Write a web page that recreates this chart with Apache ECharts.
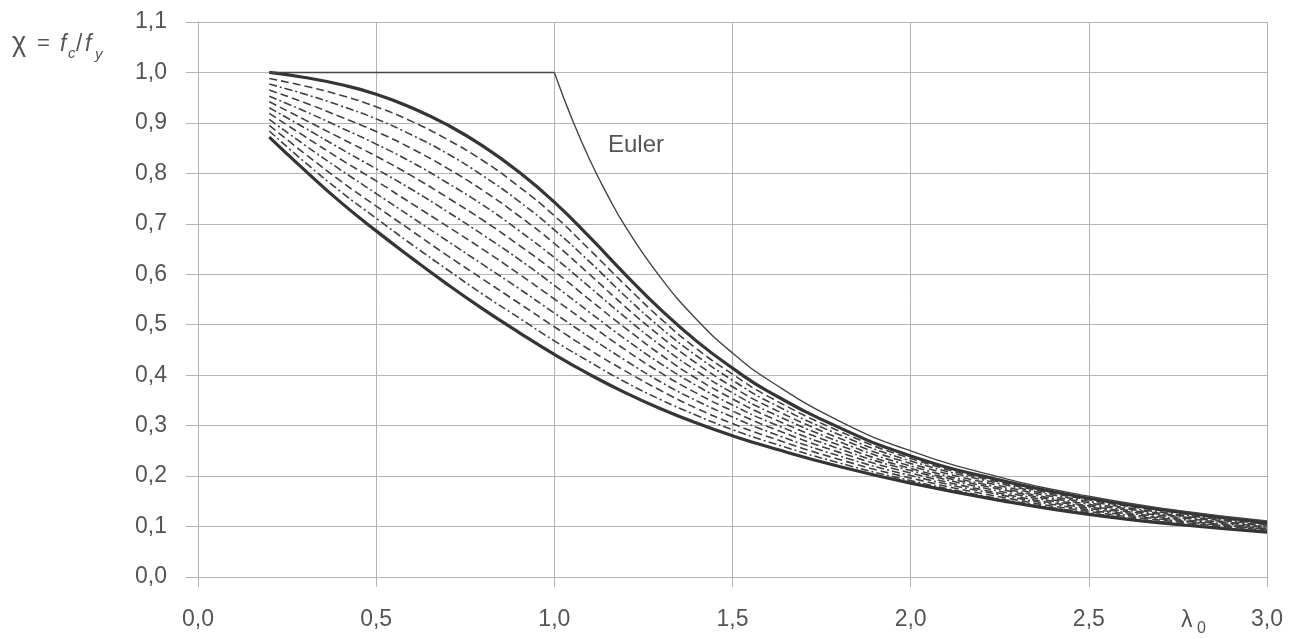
<!DOCTYPE html>
<html>
<head>
<meta charset="utf-8">
<script src="https://cdn.jsdelivr.net/npm/echarts@6/dist/echarts.min.js"></script>
<style>
  html, body { margin: 0; padding: 0; background: #fff; }
  #chart { width: 1301px; height: 639px; }
</style>
</head>
<body>
<div id="chart"></div>
<script>
// slenderness values where the curves were read
const lambda = [0.2, 0.3, 0.4, 0.5, 0.6, 0.7, 0.8, 0.9, 1.0, 1.1, 1.2, 1.3, 1.4, 1.5, 1.6, 1.8, 2.0, 2.25, 2.5, 2.75, 3.0];

// heavy boundary curves
const upper = [1.000, 0.990, 0.976, 0.957, 0.930, 0.896, 0.854, 0.803, 0.743, 0.673, 0.599, 0.529, 0.467, 0.414, 0.368, 0.296, 0.240, 0.192, 0.156, 0.129, 0.108];
const lower = [0.872, 0.806, 0.743, 0.686, 0.632, 0.580, 0.531, 0.485, 0.441, 0.401, 0.365, 0.333, 0.305, 0.280, 0.258, 0.219, 0.186, 0.152, 0.124, 0.104, 0.089];

// dashed / dash-dot curves in between (top to bottom)
const c1 = [0.988, 0.973, 0.955, 0.932, 0.903, 0.867, 0.825, 0.774, 0.716, 0.648, 0.578, 0.511, 0.452, 0.402, 0.358, 0.289, 0.235, 0.188, 0.153, 0.127, 0.106];
const c2 = [0.977, 0.957, 0.934, 0.908, 0.876, 0.839, 0.795, 0.745, 0.688, 0.624, 0.556, 0.493, 0.438, 0.390, 0.348, 0.282, 0.230, 0.185, 0.150, 0.124, 0.105];
const c3 = [0.965, 0.940, 0.912, 0.883, 0.849, 0.810, 0.766, 0.716, 0.661, 0.599, 0.535, 0.476, 0.423, 0.377, 0.338, 0.275, 0.225, 0.181, 0.147, 0.122, 0.103];
const c4 = [0.953, 0.923, 0.891, 0.858, 0.822, 0.781, 0.737, 0.687, 0.633, 0.574, 0.514, 0.458, 0.408, 0.365, 0.328, 0.268, 0.220, 0.177, 0.144, 0.120, 0.101];
const c5 = [0.942, 0.906, 0.870, 0.834, 0.795, 0.752, 0.707, 0.658, 0.606, 0.549, 0.493, 0.440, 0.393, 0.353, 0.318, 0.261, 0.215, 0.174, 0.141, 0.118, 0.099];
const c6 = [0.930, 0.890, 0.849, 0.809, 0.768, 0.724, 0.678, 0.630, 0.578, 0.524, 0.471, 0.422, 0.379, 0.341, 0.308, 0.254, 0.211, 0.170, 0.139, 0.115, 0.098];
const c7 = [0.919, 0.873, 0.828, 0.785, 0.740, 0.695, 0.649, 0.601, 0.551, 0.500, 0.450, 0.404, 0.364, 0.329, 0.298, 0.247, 0.206, 0.166, 0.136, 0.113, 0.096];
const c8 = [0.907, 0.856, 0.807, 0.760, 0.713, 0.666, 0.619, 0.572, 0.523, 0.475, 0.429, 0.386, 0.349, 0.317, 0.288, 0.240, 0.201, 0.163, 0.133, 0.111, 0.095];
const c9 = [0.895, 0.839, 0.785, 0.735, 0.686, 0.637, 0.590, 0.543, 0.496, 0.450, 0.408, 0.369, 0.334, 0.304, 0.278, 0.233, 0.196, 0.159, 0.130, 0.109, 0.093];
const c10 = [0.884, 0.822, 0.764, 0.711, 0.659, 0.609, 0.560, 0.514, 0.468, 0.426, 0.386, 0.351, 0.320, 0.292, 0.268, 0.226, 0.191, 0.155, 0.127, 0.106, 0.091];

// Euler curve: plateau, then the hyperbola
const eulerFlatLambda = [0.2, 1.0];
const eulerFlatChi = [1.0, 1.0];
const eulerLambda = [1.0, 1.05, 1.1, 1.15, 1.2, 1.3, 1.4, 1.5, 1.6, 1.8, 2.0, 2.25, 2.5, 2.75, 3.0];
const eulerChi = [1.0, 0.907, 0.826, 0.756, 0.694, 0.592, 0.510, 0.444, 0.391, 0.309, 0.250, 0.198, 0.160, 0.132, 0.111];

const xTicks = [0, 0.5, 1.0, 1.5, 2.0, 2.5, 3.0];
const yTicks = [0, 0.1, 0.2, 0.3, 0.4, 0.5, 0.6, 0.7, 0.8, 0.9, 1.0, 1.1];

const pairs = (xs, ys) => xs.map((x, i) => [x, ys[i]]);
const commaFmt = v => v.toFixed(1).replace('.', ',');

const gridColor = '#b4b4b4';
const curveColor = '#353535';
const textColor = '#555';
const font = 'Liberation Sans';

const dashed = [c1, c3, c5, c7, c9];

const series = [];
[c1, c2, c3, c4, c5, c6, c7, c8, c9, c10].forEach((c, i) => {
  series.push({
    name: 'c' + (i + 1),
    type: 'line',
    smooth: true,
    symbol: 'none',
    data: pairs(lambda, c),
    lineStyle: {
      color: '#404040',
      width: 1.6,
      type: dashed.includes(c) ? [8, 4] : [8, 3, 2, 3]
    },
    z: 2
  });
});
series.push(
  {
    name: 'upper',
    type: 'line',
    smooth: true,
    symbol: 'none',
    data: pairs(lambda, upper),
    lineStyle: { color: curveColor, width: 3.2 },
    z: 3
  },
  {
    name: 'lower',
    type: 'line',
    smooth: true,
    symbol: 'none',
    data: pairs(lambda, lower),
    lineStyle: { color: curveColor, width: 3.2 },
    z: 3
  },
  {
    name: 'Euler',
    type: 'line',
    symbol: 'none',
    data: pairs(eulerFlatLambda, eulerFlatChi),
    lineStyle: { color: '#444', width: 1.4 },
    z: 3
  },
  {
    name: 'Euler',
    type: 'line',
    smooth: true,
    symbol: 'none',
    data: pairs(eulerLambda, eulerChi),
    lineStyle: { color: '#444', width: 1.4 },
    z: 3
  }
);

const chart = echarts.init(document.getElementById('chart'));
chart.setOption({
  animation: false,
  backgroundColor: '#fff',
  grid: { left: 198, right: 34, top: 22, bottom: 62 },
  xAxis: {
    type: 'value',
    min: xTicks[0],
    max: xTicks[xTicks.length - 1],
    interval: 0.5,
    axisLine: { show: true, lineStyle: { color: gridColor } },
    axisTick: { show: true, length: 10, lineStyle: { color: gridColor } },
    axisLabel: { formatter: commaFmt, fontSize: 23, color: textColor, margin: 31, fontFamily: font },
    splitLine: { show: true, lineStyle: { color: gridColor, width: 1 } }
  },
  yAxis: {
    type: 'value',
    min: yTicks[0],
    max: yTicks[yTicks.length - 1],
    interval: 0.1,
    axisLine: { show: true, lineStyle: { color: gridColor } },
    axisTick: { show: true, length: 12, lineStyle: { color: gridColor } },
    axisLabel: { formatter: commaFmt, fontSize: 23, color: textColor, margin: 31, fontFamily: font },
    splitLine: { show: true, lineStyle: { color: gridColor, width: 1 } }
  },
  graphic: [
    // y-axis title: chi = f_c / f_y
    { type: 'text', left: 12, top: 30, style: { text: 'χ', fontSize: 27, fill: textColor, fontFamily: font } },
    { type: 'text', left: 37, top: 33, style: { text: '=', fontSize: 22, fill: textColor, fontFamily: font } },
    { type: 'text', left: 60, top: 33, style: { text: 'f', fontSize: 23, fontStyle: 'italic', fill: textColor, fontFamily: font } },
    { type: 'text', left: 68, top: 46, style: { text: 'c', fontSize: 15, fontStyle: 'italic', fill: textColor, fontFamily: font } },
    { type: 'text', left: 76, top: 33, style: { text: '/', fontSize: 23, fill: textColor, fontFamily: font } },
    { type: 'text', left: 85, top: 33, style: { text: 'f', fontSize: 23, fontStyle: 'italic', fill: textColor, fontFamily: font } },
    { type: 'text', left: 95, top: 47, style: { text: 'y', fontSize: 15, fontStyle: 'italic', fill: textColor, fontFamily: font } },
    // x-axis title: lambda_0
    { type: 'text', left: 1181, top: 609, style: { text: 'λ', fontSize: 23, fill: textColor, fontFamily: font } },
    { type: 'text', left: 1197, top: 621, style: { text: '0', fontSize: 16, fill: textColor, fontFamily: font } },
    // curve label
    { type: 'text', left: 608, top: 133, style: { text: 'Euler', fontSize: 24, fill: textColor, fontFamily: font } }
  ],
  series: series
});
</script>
</body>
</html>
